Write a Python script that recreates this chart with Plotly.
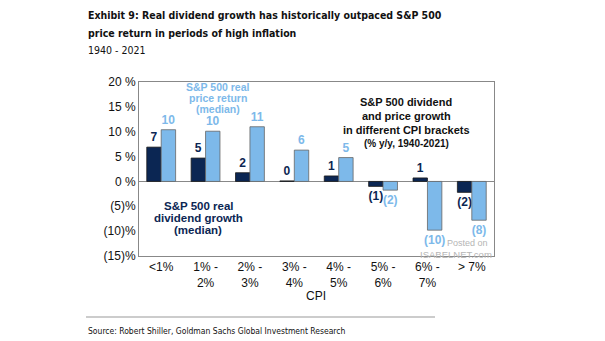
import plotly.graph_objects as go

categories = ["<1%", "1% -<br>2%", "2% -<br>3%", "3% -<br>4%", "4% -<br>5%", "5% -<br>6%", "6% -<br>7%", "> 7%"]
dividend_growth = [6.9, 4.7, 1.75, 0.1, 1.1, -1.0, 0.7, -2.2]
price_return = [10.4, 10.1, 11.0, 6.3, 4.8, -1.75, -9.8, -7.8]
tick_vals = [20, 15, 10, 5, 0, -5, -10, -15]
tick_text = ["20 %", "15 %", "10 %", "5 %", "0 %", "(5)%", "(10)%", "(15)%"]

def fmt(v):
    r = round(v)
    return f"({abs(r)})" if r < 0 else f"{r}"

NAVY = "#0b2653"
LIGHT = "#7db9ea"
COND = "DejaVu Sans Condensed, Liberation Sans"
SANS = "Liberation Sans"

W, H = 605, 341
L, R, T, B = 139, 494, 82, 256

def px(x):
    return (x - L) / (R - L)

def py(y):
    return (B - y) / (B - T)

fig = go.Figure()
fig.add_trace(go.Bar(
    x=categories, y=dividend_growth, name="dividend",
    marker=dict(color=NAVY, line=dict(color="#1a1a1a", width=0.8)),
    text=[fmt(v) for v in dividend_growth], textposition="outside",
    textfont=dict(color=NAVY, size=12, family=SANS), constraintext="none",
    texttemplate="<b>%{text}</b>", cliponaxis=False,
))
fig.add_trace(go.Bar(
    x=categories, y=price_return, name="price",
    marker=dict(color=LIGHT, line=dict(color="#666666", width=0.8)),
    text=[fmt(v) for v in price_return], textposition="outside",
    textfont=dict(color=LIGHT, size=12, family=SANS), constraintext="none",
    texttemplate="<b>%{text}</b>", cliponaxis=False,
))

def ann(x, y, text, color, size, family=SANS, xanchor="center"):
    return dict(x=px(x), y=py(y), text=text, xanchor=xanchor, yanchor="middle",
                xref="paper", yref="paper", showarrow=False,
                font=dict(color=color, size=size, family=family))

annotations = [
    # title block
    ann(86, 15, "<b>Exhibit 9: Real dividend growth has historically outpaced S&P 500</b>", "#111111", 10.5, COND, "left"),
    ann(86, 33, "<b>price return in periods of high inflation</b>", "#111111", 10.5, COND, "left"),
    ann(86, 50, "1940 - 2021", "#111111", 10.5, COND, "left"),
    # series labels
    ann(218, 86.5, "<b>S&P 500 real</b>", LIGHT, 10.5),
    ann(218, 97.5, "<b>price return</b>", LIGHT, 10.5),
    ann(218, 108.5, "<b>(median)</b>", LIGHT, 10.5),
    ann(198, 206, "<b>S&P 500 real</b>", NAVY, 11.5),
    ann(198, 218, "<b>dividend growth</b>", NAVY, 11.5),
    ann(198, 230, "<b>(median)</b>", NAVY, 11.5),
    # chart note
    ann(406, 102, "<b>S&P 500 dividend</b>", "#111111", 11),
    ann(406, 116, "<b>and price growth</b>", "#111111", 11),
    ann(406, 130, "<b>in different CPI brackets</b>", "#111111", 11),
    ann(406, 143, "<b>(% y/y, 1940-2021)</b>", "#111111", 10),
    # watermark
    ann(467, 243, "Posted on", "#b5b5b5", 9),
    ann(456, 254, "ISABELNET.com", "#b5b5b5", 9.5),
    # axis title
    ann(316, 296, "CPI", "#111111", 12),
    # source
    ann(86, 331, "Source: Robert Shiller, Goldman Sachs Global Investment Research", "#111111", 8.5, COND, "left"),
]

fig.update_layout(
    width=W, height=H,
    margin=dict(l=L, r=W - R, t=T, b=H - B),
    paper_bgcolor="white", plot_bgcolor="white",
    barmode="group", bargap=0.35, bargroupgap=0.0,
    showlegend=False,
    font=dict(family=SANS, size=12, color="#111111"),
    annotations=annotations,
    shapes=[dict(type="line", xref="paper", yref="paper", x0=px(86), x1=px(435),
                 y0=py(317), y1=py(317), line=dict(color="#999999", width=1))],
)
fig.update_xaxes(showline=True, mirror=True, linecolor="#888888", linewidth=1,
                 ticks="", tickfont=dict(size=12), showgrid=False)
fig.update_yaxes(range=[-15, 20], tickvals=tick_vals, ticktext=tick_text,
                 showline=True, mirror=True, linecolor="#888888", linewidth=1,
                 showgrid=False, zeroline=True, zerolinecolor="#888888", zerolinewidth=1,
                 tickfont=dict(size=12), ticks="", ticklen=0)

fig.write_html("out.html")
